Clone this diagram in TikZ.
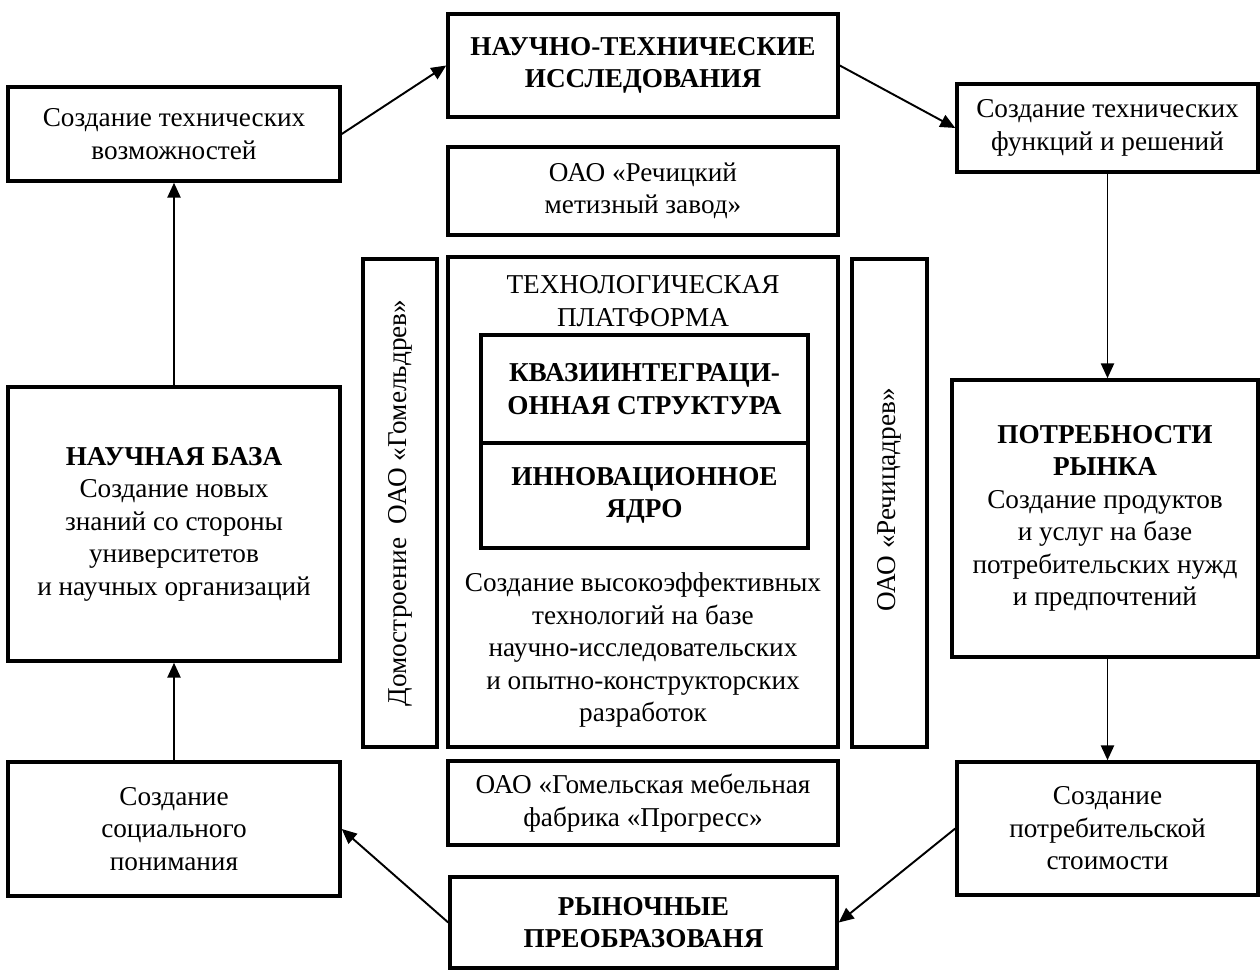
\documentclass[tikz,border=0pt]{standalone}
\usepackage{fontspec}
\setmainfont{Liberation Serif}
\usetikzlibrary{arrows.meta,calc}
\newcommand\myfs{\fontsize{15.5}{18.5}\selectfont}
\begin{document}
\begin{tikzpicture}[x=0.02cm,y=-0.02cm,
  box/.style 2 args={draw, line width=2pt, inner sep=0pt, align=center, font=\myfs,
    minimum width=#1*0.02cm, minimum height=#2*0.02cm},
  txt/.style={inner sep=0pt, align=center, font=\myfs},
  arr/.style={-{Triangle[length=8.5pt,width=7.5pt]}, line width=1.1pt}]
\useasboundingbox (0,0) rectangle (1260,972);
% top row
\node[box={332}{94}] (tv) at (174,134) {Создание технических\\возможностей};
\node[box={390}{103}] (nti) at (643,65.5) {\bfseries НАУЧНО-ТЕХНИЧЕСКИЕ\\\bfseries ИССЛЕДОВАНИЯ};
\node[box={301}{88}] (tf) at (1107.5,128) {Создание технических\\функций и решений};
\node[box={390}{88}] (rmz) at (643,191) {ОАО «Речицкий\\метизный завод»};
% middle
\node[box={332}{274}] (nb) at (174,524) {\bfseries НАУЧНАЯ БАЗА\\Создание новых\\знаний со стороны\\университетов\\и научных организаций};
\node[box={74}{488}] (dom) at (400,503) {};
\node[txt, rotate=90] (domt) at (400,503) {Домостроение\ \ ОАО «Гомельдрев»};
\node[box={390}{490}] (tp) at (643,502) {};
\node[txt] (tpt) at (643,301) {ТЕХНОЛОГИЧЕСКАЯ\\ПЛАТФОРМА};
\node[box={327}{108}] (kv) at (644.5,389) {\bfseries КВАЗИИНТЕГРАЦИ-\\\bfseries ОННАЯ СТРУКТУРА};
\node[box={327}{105}] (inn) at (644.5,495.5) {\bfseries ИННОВАЦИОННОЕ\\\bfseries ЯДРО};
\node[txt] (tpb) at (643,650) {Создание высокоэффективных\\технологий на базе\\научно-исследовательских\\и опытно-конструкторских\\разработок};
\node[box={75}{488}] (rech) at (889.5,503) {};
\node[txt, rotate=90] (recht) at (889.5,500) {ОАО «Речицадрев»};
\node[box={306}{277}] (pr) at (1105,518.5) {\bfseries ПОТРЕБНОСТИ\\\bfseries РЫНКА\\Создание продуктов\\и услуг на базе\\потребительских нужд\\и предпочтений};
% bottom
\node[box={390}{84}] (gmf) at (643,803) {ОАО «Гомельская мебельная\\фабрика «Прогресс»};
\node[box={332}{134}] (sp) at (174,829) {Создание\\социального\\понимания};
\node[box={301}{133}] (sps) at (1107.5,828.5) {Создание\\потребительской\\стоимости};
\node[box={387}{91}] (rp) at (643.5,922.5) {\bfseries РЫНОЧНЫЕ\\\bfseries ПРЕОБРАЗОВАНЯ};
% connectors
\draw[arr] (tv.east) -- (nti.west);
\draw[arr] (nti.east) -- (tf.west);
\draw[arr] (tf.south) -- (tf.south |- pr.north);
\draw[arr] (sps.north |- pr.south) -- (sps.north);
\draw[arr] (sps.west) -- (rp.east);
\draw[arr] (rp.west) -- (sp.east);
\draw[arr] (sp.north) -- (nb.south);
\draw[arr] (nb.north) -- (tv.south);
\end{tikzpicture}
\end{document}
